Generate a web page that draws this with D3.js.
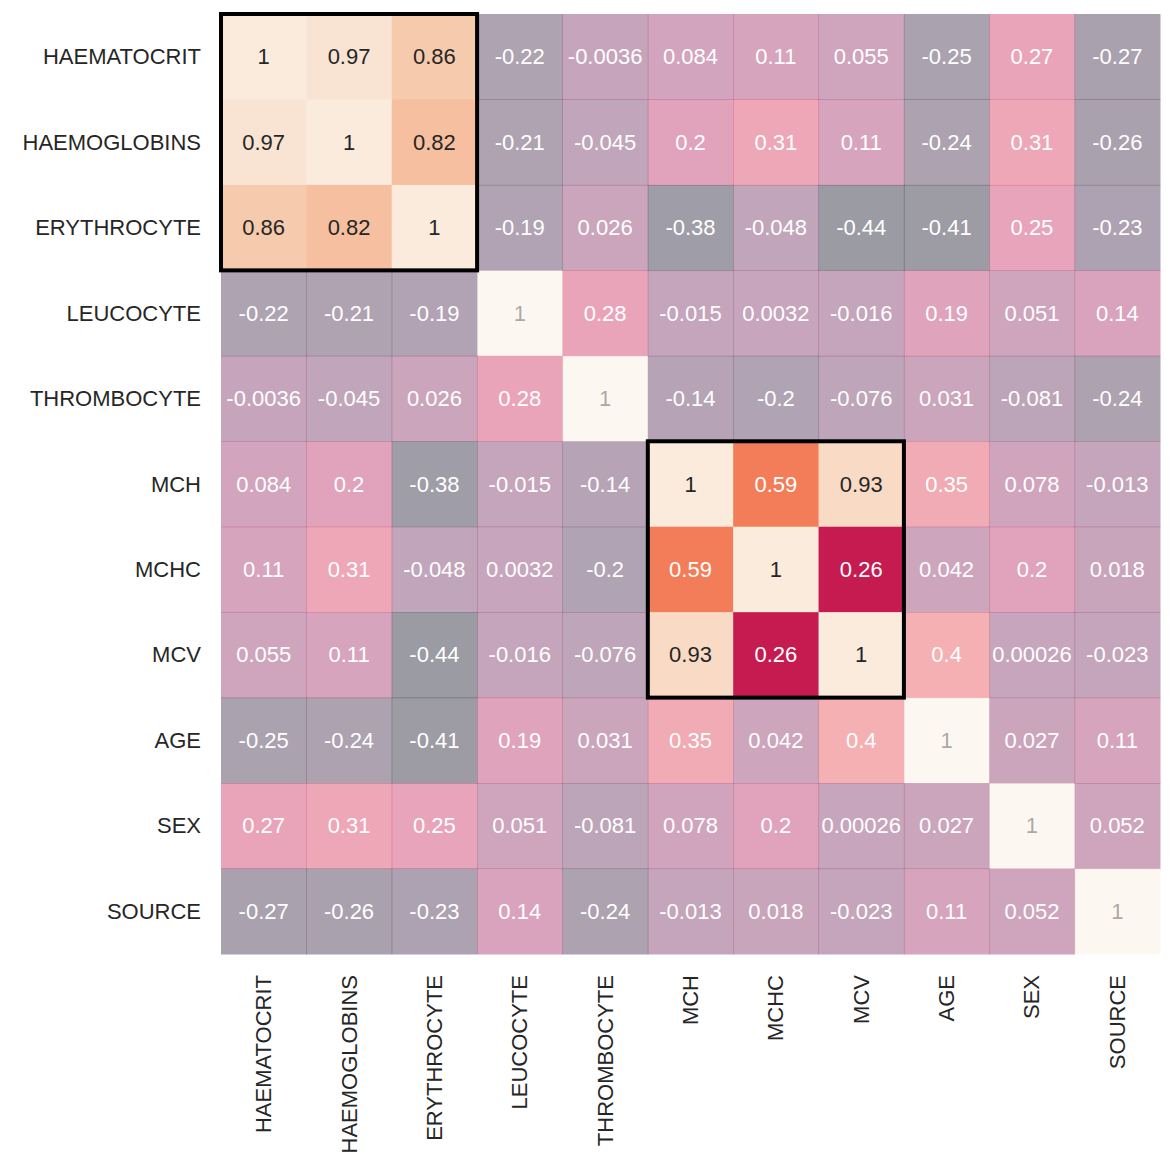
<!DOCTYPE html>
<html><head><meta charset="utf-8">
<script src="https://cdn.jsdelivr.net/npm/d3@7"></script>
<style>body{margin:0;background:#fff}</style>
</head><body><div id="chart"></div>
<script>
const labels = ['HAEMATOCRIT','HAEMOGLOBINS','ERYTHROCYTE','LEUCOCYTE','THROMBOCYTE','MCH','MCHC','MCV','AGE','SEX','SOURCE'];
const values = [
  [1,0.97,0.86,-0.22,-0.0036,0.084,0.11,0.055,-0.25,0.27,-0.27],
  [0.97,1,0.82,-0.21,-0.045,0.2,0.31,0.11,-0.24,0.31,-0.26],
  [0.86,0.82,1,-0.19,0.026,-0.38,-0.048,-0.44,-0.41,0.25,-0.23],
  [-0.22,-0.21,-0.19,1,0.28,-0.015,0.0032,-0.016,0.19,0.051,0.14],
  [-0.0036,-0.045,0.026,0.28,1,-0.14,-0.2,-0.076,0.031,-0.081,-0.24],
  [0.084,0.2,-0.38,-0.015,-0.14,1,0.59,0.93,0.35,0.078,-0.013],
  [0.11,0.31,-0.048,0.0032,-0.2,0.59,1,0.26,0.042,0.2,0.018],
  [0.055,0.11,-0.44,-0.016,-0.076,0.93,0.26,1,0.4,0.00026,-0.023],
  [-0.25,-0.24,-0.41,0.19,0.031,0.35,0.042,0.4,1,0.027,0.11],
  [0.27,0.31,0.25,0.051,-0.081,0.078,0.2,0.00026,0.027,1,0.052],
  [-0.27,-0.26,-0.23,0.14,-0.24,-0.013,0.018,-0.023,0.11,0.052,1]
];
// highlighted blocks [start, end] (inclusive index)
const blocks = [[0,2],[5,7]];

const rocketStops = ['#03051a','#221331','#451c47','#701f57','#a11a5b','#cb1b4f','#e83f3f','#f37651','#f6a47c','#f6c9ac','#faebdd'];
const norm = d3.scaleLinear().domain([-0.44,1]).range([0,1]).clamp(true);
const rocket = d3.scaleLinear().domain(d3.range(11).map(i=>i/10)).range(rocketStops);

const W=1176,H=1176;
const svg = d3.select('#chart').append('svg').attr('width',W).attr('height',H)
  .style('font-family','"Liberation Sans", Arial, sans-serif');
const x = d3.scaleBand().domain(labels).range([221,1160]);
const y = d3.scaleBand().domain(labels).range([14,954]);

const inBlock = (i,j)=>blocks.some(([a,b])=>i>=a&&i<=b&&j>=a&&j<=b);
const cells = [];
values.forEach((row,i)=>row.forEach((v,j)=>cells.push({i,j,v,hi:inBlock(i,j)})));

const fmt = v => { if (v===1) return '1'; return String(v); };
const g = svg.append('g');
g.selectAll('rect').data(cells).enter().append('rect')
  .attr('x',d=>x(labels[d.j])).attr('y',d=>y(labels[d.i]))
  .attr('width',x.bandwidth()+0.5).attr('height',y.bandwidth()+0.5)
  .attr('fill',d=>rocket(norm(d.v))).attr('fill-opacity',d=>d.hi?1:0.4);

function lum(c){const r=d3.rgb(c);const f=u=>{u/=255;return u<=0.03928?u/12.92:Math.pow((u+0.055)/1.055,2.4)};return 0.2126*f(r.r)+0.7152*f(r.g)+0.0722*f(r.b);}
g.selectAll('text').data(cells).enter().append('text')
  .attr('x',d=>x(labels[d.j])+x.bandwidth()/2).attr('y',d=>y(labels[d.i])+y.bandwidth()/2)
  .attr('text-anchor','middle').attr('dominant-baseline','central').attr('font-size',22)
  .attr('fill',d=>lum(rocket(norm(d.v)))>0.408?'#262626':'#fff')
  .attr('fill-opacity',d=>d.hi?1:(lum(rocket(norm(d.v)))>0.408?0.4:1))
  .text(d=>fmt(d.v));

svg.append('g').selectAll('rect').data(blocks).enter().append('rect')
  .attr('x',d=>x(labels[d[0]])).attr('y',d=>y(labels[d[0]]))
  .attr('width',d=>x.bandwidth()*(d[1]-d[0]+1)).attr('height',d=>y.bandwidth()*(d[1]-d[0]+1))
  .attr('fill','none').attr('stroke','#000').attr('stroke-width',4);

svg.append('g').selectAll('text').data(labels).enter().append('text')
  .attr('x',201).attr('y',d=>y(d)+y.bandwidth()/2)
  .attr('text-anchor','end').attr('dominant-baseline','central').attr('font-size',22).attr('fill','#262626')
  .text(d=>d);
svg.append('g').selectAll('text').data(labels).enter().append('text')
  .attr('transform',d=>`translate(${x(d)+x.bandwidth()/2},975) rotate(-90)`)
  .attr('text-anchor','end').attr('dominant-baseline','central').attr('font-size',22).attr('fill','#262626')
  .text(d=>d);
</script></body></html>
